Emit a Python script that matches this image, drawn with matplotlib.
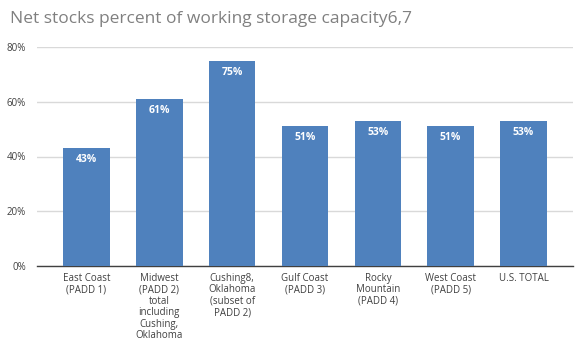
import matplotlib
matplotlib.use("Agg")
import matplotlib.pyplot as plt
from matplotlib.ticker import FuncFormatter

# data
categories = [
    "East Coast\n(PADD 1)",
    "Midwest\n(PADD 2)\ntotal\nincluding\nCushing,\nOklahoma",
    "Cushing8,\nOklahoma\n(subset of\nPADD 2)",
    "Gulf Coast\n(PADD 3)",
    "Rocky\nMountain\n(PADD 4)",
    "West Coast\n(PADD 5)",
    "U.S. TOTAL",
]
values = [0.43, 0.61, 0.75, 0.51, 0.53, 0.51, 0.53]
yticks = [0.0, 0.2, 0.4, 0.6, 0.8]

plt.rcParams['font.family'] = ['Open Sans', 'DejaVu Sans']

fig = plt.figure(figsize=(5.81, 3.51), dpi=100)
ax = fig.add_axes([37 / 581, 85 / 351, 536 / 581, 219 / 351])

x = range(len(categories))
bars = ax.bar(x, values, width=0.64, color='#4F81BD', zorder=3)

# percentage labels inside the top of each bar
for b, v in zip(bars, values):
    ax.text(b.get_x() + b.get_width() / 2, v - 0.042, f"{round(v * 100)}%",
            ha='center', va='center', color='white', fontsize=7.5,
            fontweight='bold', zorder=4)

ax.set_xlim(-0.68, 6.68)
ax.set_ylim(0, 0.8)
ax.set_yticks(yticks)
ax.yaxis.set_major_formatter(FuncFormatter(lambda v, p: f"{v * 100:.0f}%"))
ax.grid(axis='y', color='#d9d9d9', linewidth=1, zorder=0)

ax.set_xticks(list(x))
ax.set_xticklabels(categories, fontsize=7, color='#404040', linespacing=1.05, va='top')
ax.tick_params(axis='x', length=0, pad=5)
ax.tick_params(axis='y', length=0, pad=8, labelsize=7, labelcolor='#404040')

for s in ['top', 'right', 'left']:
    ax.spines[s].set_visible(False)
ax.spines['bottom'].set_color('#404040')
ax.spines['bottom'].set_linewidth(1)

fig.text(10 / 581, 1 - 19 / 351, "Net stocks percent of working storage capacity6,7",
         fontsize=12.5, color='#808080', ha='left', va='center')

fig.savefig("out.png", dpi=100)
